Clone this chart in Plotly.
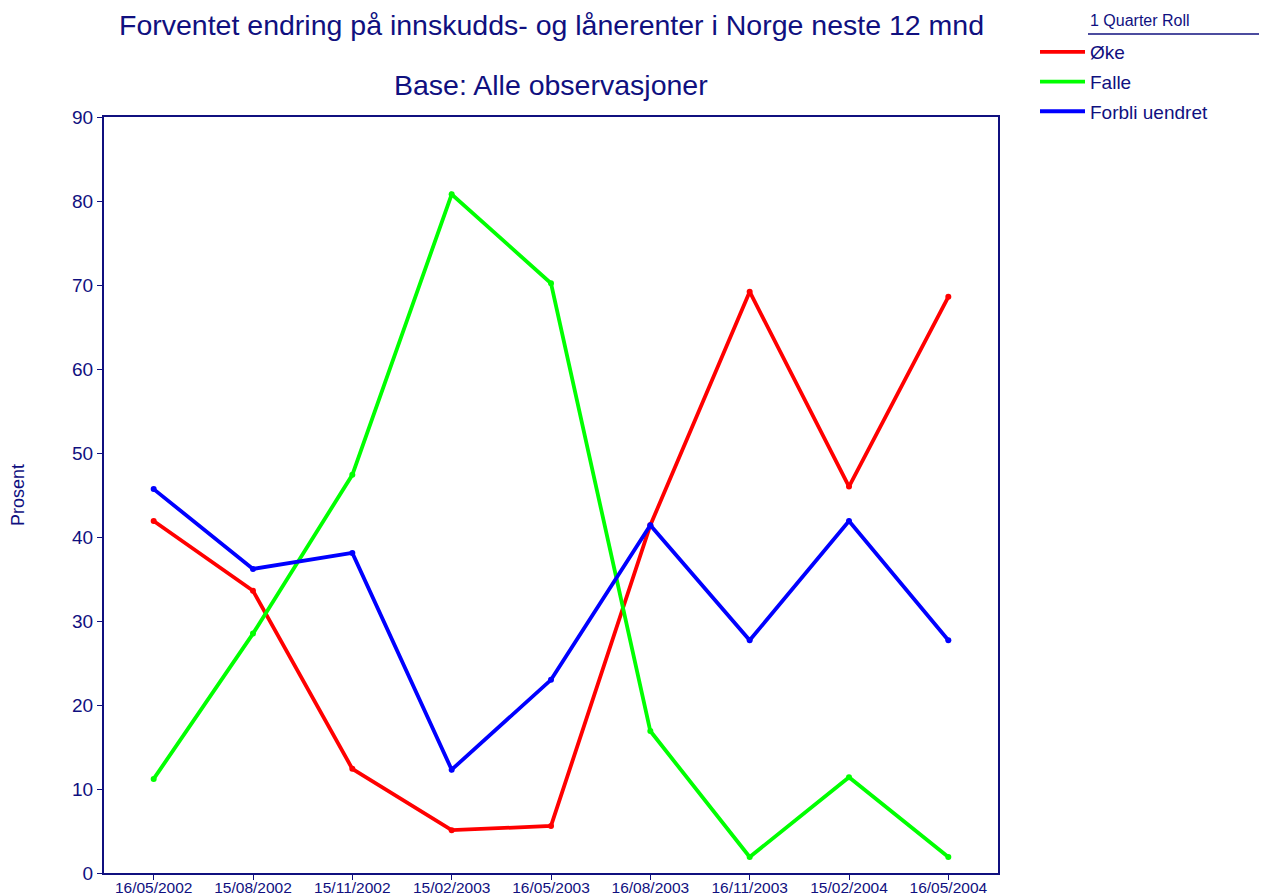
import plotly.graph_objects as go

dates = ['16/05/2002', '15/08/2002', '15/11/2002', '15/02/2003', '16/05/2003',
         '16/08/2003', '16/11/2003', '15/02/2004', '16/05/2004']

oke = [41.9, 33.6, 12.4, 5.1, 5.6, 41.4, 69.2, 46.0, 68.6]
falle = [11.2, 28.5, 47.4, 80.8, 70.2, 16.9, 1.9, 11.4, 1.9]
uendret = [45.7, 36.2, 38.1, 12.3, 23.0, 41.4, 27.7, 41.9, 27.7]

navy = '#10107f'

# page body has an 8px margin, so the figure is 8px smaller than the window
W, H = 1259, 887
L, R, T, B = 96, 269, 109, 22
PW, PH = W - L - R, H - T - B

fig = go.Figure()

# lines carry the legend, dots are drawn separately so the legend shows plain lines
for name, vals, col in [('Øke', oke, '#ff0000'),
                        ('Falle', falle, '#00ff00'),
                        ('Forbli uendret', uendret, '#0000ff')]:
    fig.add_trace(go.Scatter(x=dates, y=vals, name=name, legendgroup=name,
                             mode='lines', line=dict(color=col, width=3.8)))
    fig.add_trace(go.Scatter(x=dates, y=vals, name=name, legendgroup=name,
                             mode='markers', showlegend=False,
                             marker=dict(size=6, color=col)))

fig.update_layout(
    width=W, height=H,
    margin=dict(l=L, r=R, t=T, b=B, autoexpand=False),
    plot_bgcolor='white', paper_bgcolor='white',
    font=dict(family='Liberation Sans, Arial', color=navy, size=14),
    showlegend=True,
    legend=dict(xref='container', yref='container', x=1027 / W, y=1 - 25 / H,
                xanchor='left', yanchor='top',
                font=dict(size=19, color=navy), tracegroupgap=2,
                itemwidth=45, bgcolor='rgba(0,0,0,0)'),
    xaxis=dict(type='category', range=[-0.5, 8.5], showline=True, linecolor=navy,
               linewidth=2, mirror=True, ticks='outside', ticklen=5, tickcolor=navy,
               showgrid=False, tickfont=dict(size=15.5, color=navy),
               ticklabelstandoff=-6),
    yaxis=dict(range=[0, 90], dtick=10, showline=True, linecolor=navy, linewidth=2,
               mirror=True, ticks='outside', ticklen=5, tickcolor=navy,
               showgrid=False, zeroline=False, tickfont=dict(size=19, color=navy),
               title=dict(text='Prosent', font=dict(size=18, color=navy), standoff=45)),
)

fig.add_annotation(text='Forventet endring på innskudds- og lånerenter i Norge neste 12 mnd',
                   xref='paper', yref='paper', x=0.5, y=1.0, yshift=92, xanchor='center',
                   yanchor='middle', showarrow=False, font=dict(size=28.5, color=navy))
fig.add_annotation(text='Base: Alle observasjoner', xref='paper', yref='paper',
                   x=0.5, y=1.0, yshift=32, xanchor='center', yanchor='middle',
                   showarrow=False, font=dict(size=28.5, color=navy))
fig.add_annotation(text='1 Quarter Roll', xref='paper', yref='paper', x=(1080 - L) / PW,
                   y=1.0, yshift=97, xanchor='left', yanchor='middle', showarrow=False,
                   font=dict(size=16, color=navy))
fig.add_shape(type='line', xref='paper', yref='paper', x0=(1080 - L) / PW, x1=(W - L) / PW,
              y0=(H - B - 26) / PH, y1=(H - B - 26) / PH, line=dict(color=navy, width=1.5))

fig.write_html('out.html')
